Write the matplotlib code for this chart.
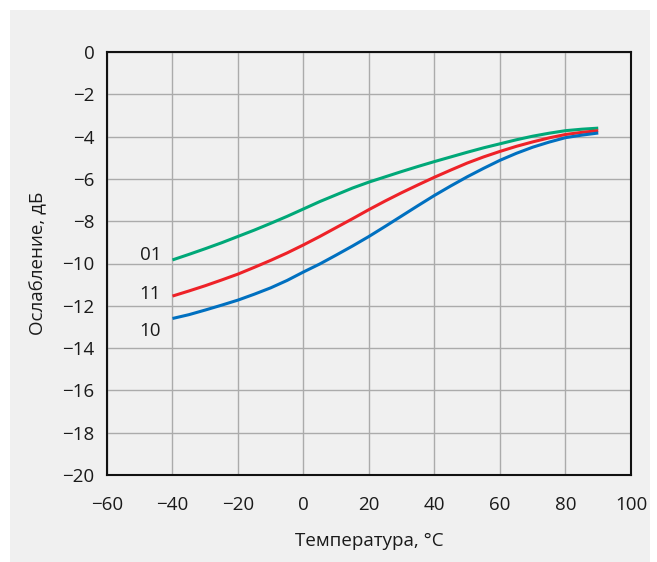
import matplotlib.pyplot as plt
from matplotlib.patches import Rectangle

plt.rcParams["font.family"] = ["Open Sans", "DejaVu Sans"]

# --- data ---
temps = [-40, -35, -30, -25, -20, -15, -10, -5, 0, 5, 10, 15, 20, 25, 30,
         35, 40, 45, 50, 55, 60, 65, 70, 75, 80, 85, 90]
att_01 = [-9.83, -9.57, -9.3, -9.02, -8.72, -8.42, -8.1, -7.77, -7.42, -7.07, -6.75, -6.43, -6.15,
          -5.9, -5.65, -5.41, -5.18, -4.96, -4.74, -4.53, -4.34, -4.15, -3.98, -3.84, -3.72, -3.65, -3.6]
att_11 = [-11.54, -11.3, -11.05, -10.78, -10.5, -10.18, -9.85, -9.5, -9.12, -8.72, -8.3, -7.88, -7.45,
          -7.04, -6.65, -6.28, -5.92, -5.58, -5.25, -4.96, -4.7, -4.46, -4.25, -4.06, -3.9, -3.8, -3.72]
att_10 = [-12.6, -12.42, -12.2, -11.97, -11.73, -11.45, -11.15, -10.8, -10.4, -10.02, -9.6, -9.17, -8.72,
          -8.24, -7.75, -7.26, -6.78, -6.33, -5.9, -5.5, -5.12, -4.79, -4.5, -4.26, -4.05, -3.93, -3.83]
series_labels = ["01", "11", "10"]
label_y = [-9.6, -11.45, -13.2]
colors = ["#00a878", "#ee2228", "#0070c0"]

bg = "#f0f0f0"

fig = plt.figure(figsize=(6.57, 5.62), dpi=100, facecolor="white")
panel = Rectangle((10 / 657, 0), 640 / 657, 552 / 562, transform=fig.transFigure,
                  facecolor=bg, edgecolor="none", zorder=-10)
fig.add_artist(panel)
ax = fig.add_axes([107 / 657, 1 - 475 / 562, 524 / 657, 423 / 562])
ax.set_facecolor(bg)

for ys, c in zip([att_01, att_11, att_10], colors):
    ax.plot(temps, ys, color=c, linewidth=2.2, solid_capstyle="butt",
            solid_joinstyle="round", zorder=3)

for lab, ly in zip(series_labels, label_y):
    ax.text(-43.5, ly, lab, ha="right", va="center", fontsize=13.5, color="#1a1a1a")

ax.set_xlim(-60, 100)
ax.set_ylim(-20, 0)
ax.set_xticks(range(-60, 101, 20))
ax.set_yticks(range(-20, 1, 2))
ax.set_xticklabels([str(v).replace("-", "\u2212") for v in range(-60, 101, 20)])
ax.set_yticklabels([str(v).replace("-", "\u2212") for v in range(-20, 1, 2)])
ax.tick_params(length=0, labelsize=13.5, colors="#1a1a1a")
ax.tick_params(axis="x", pad=15)
ax.tick_params(axis="y", pad=9)
ax.grid(color="#ababab", linewidth=1.0)
ax.set_axisbelow(True)
for s in ax.spines.values():
    s.set_linewidth(1.5)
    s.set_color("#111111")

ax.set_xlabel("Температура, °C", fontsize=13.5, labelpad=13, color="#1a1a1a")
ax.set_ylabel("Ослабление, дБ", fontsize=13.5, labelpad=11, color="#1a1a1a")

plt.savefig("out.png", dpi=100, facecolor="white")
